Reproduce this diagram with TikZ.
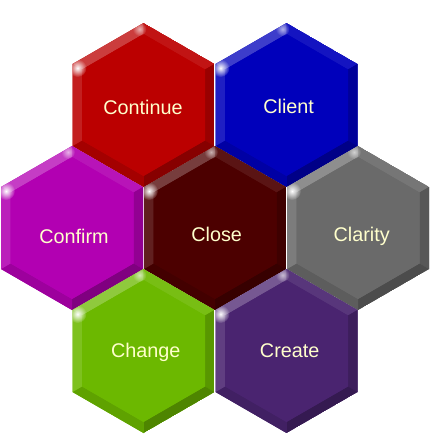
\documentclass[tikz,border=0pt]{standalone}
\usepackage{fontspec}
\setmainfont{Liberation Sans}
\usetikzlibrary{fadings}
\definecolor{cContinue}{HTML}{BB0000}
\definecolor{cClient}{HTML}{0000BB}
\definecolor{cConfirm}{HTML}{B200B2}
\definecolor{cClose}{HTML}{4C0000}
\definecolor{cClarity}{HTML}{6A6A6A}
\definecolor{cChange}{HTML}{6CB800}
\definecolor{cCreate}{HTML}{4A2470}
\definecolor{textcol}{HTML}{FFFFCC}
\tikzfading[name=glow, inner color=transparent!0, outer color=transparent!100]
\tikzset{
  hexlabel/.style={text=textcol, font=\fontsize{19.8}{22}\selectfont, inner sep=0pt},
}
% #1 name, #2 x, #3 y, #4 colour, #5 text, #6 text x, #7 text y
\newcommand\hexbtn[7]{%
  \begin{scope}[shift={(#2,#3)}]
    \begin{scope}
      \clip (0,-82)--(71,-41)--(71,41)--(0,82)--(-71,41)--(-71,-41)--cycle;
      \fill[#4] (0,-82)--(71,-41)--(71,41)--(0,82)--(-71,41)--(-71,-41)--cycle;
      \fill[#4!76!white] (-71,-41)--(0,-82)--(0,-71)--(-61.5,-35.5)--cycle;
      \fill[#4!92!white] (0,-82)--(71,-41)--(61.5,-35.5)--(0,-71)--cycle;
      \fill[#4!82!black] (71,-41)--(71,41)--(61.5,35.5)--(61.5,-35.5)--cycle;
      \fill[#4!72!black] (71,41)--(0,82)--(0,71)--(61.5,35.5)--cycle;
      \fill[#4!88!black] (0,82)--(-71,41)--(-61.5,35.5)--(0,71)--cycle;
      \fill[#4!88!white] (-71,41)--(-71,-41)--(-61.5,-35.5)--(-61.5,35.5)--cycle;
      \fill[#4] (0,-71)--(61.5,-35.5)--(61.5,35.5)--(0,71)--(-61.5,35.5)--(-61.5,-35.5)--cycle;
      \fill[white, path fading=glow] (-66,-37) circle (9pt);
      \fill[white, path fading=glow, opacity=0.6] (-4,-76) circle (7pt);
    \end{scope}
  \end{scope}
  \node[hexlabel] (#1) at (#6,#7) {#5};
}
\begin{document}
\begin{tikzpicture}[x=1pt,y=-1pt]
  \useasboundingbox (0,0) rectangle (432,445);
  \hexbtn{continue}{143.5}{105}{cContinue}{Continue}{143}{107.5}
  \hexbtn{client}{286.5}{105}{cClient}{Client}{288.7}{106.7}
  \hexbtn{confirm}{72}{228}{cConfirm}{Confirm}{74}{236.5}
  \hexbtn{close}{215}{228}{cClose}{Close}{216.7}{234.3}
  \hexbtn{clarity}{358}{228}{cClarity}{Clarity}{361.7}{236}
  \hexbtn{change}{143.5}{351}{cChange}{Change}{145.7}{352}
  \hexbtn{create}{286.5}{351}{cCreate}{Create}{289.7}{351}
\end{tikzpicture}
\end{document}
